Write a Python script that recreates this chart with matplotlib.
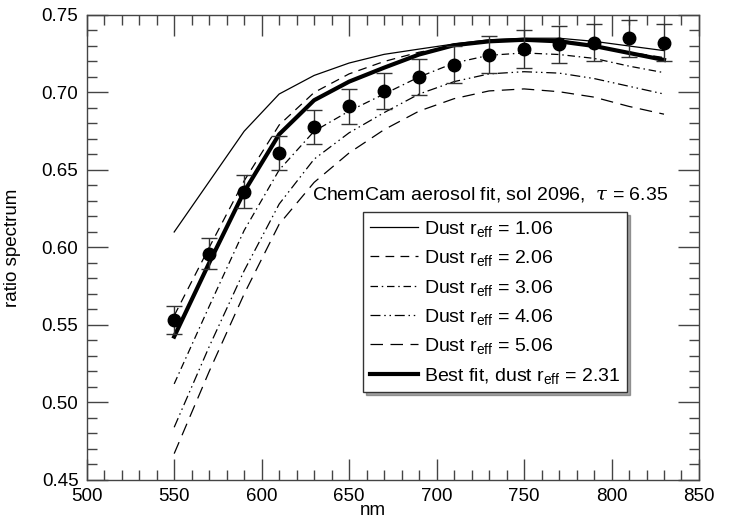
import matplotlib
matplotlib.use("Agg")
import matplotlib.pyplot as plt
from matplotlib.ticker import MultipleLocator

plt.rcParams['font.family'] = ['Liberation Sans', 'DejaVu Sans']
plt.rcParams['mathtext.fontset'] = 'custom'
plt.rcParams['mathtext.rm'] = 'Liberation Sans'
plt.rcParams['mathtext.it'] = 'DejaVu Serif:italic'

wavelength = [550, 570, 590, 610, 630, 650, 670, 690, 710, 730, 750, 770, 790, 810, 830]

obs = [0.553, 0.596, 0.636, 0.661, 0.678, 0.691, 0.701, 0.710, 0.718, 0.7245, 0.728, 0.731, 0.732, 0.735, 0.732]
obs_err = [0.009, 0.010, 0.0105, 0.0107, 0.011, 0.0115, 0.0116, 0.0116, 0.012, 0.012, 0.0123, 0.0122, 0.012, 0.012, 0.012]

dust_106 = [0.610, 0.6425, 0.675, 0.699, 0.711, 0.719, 0.7246, 0.728, 0.7313, 0.734, 0.735, 0.735, 0.733, 0.730, 0.727]
dust_206 = [0.556, 0.600, 0.643, 0.679, 0.700, 0.712, 0.720, 0.726, 0.730, 0.733, 0.734, 0.734, 0.730, 0.726, 0.7225]
dust_306 = [0.512, 0.562, 0.611, 0.650, 0.675, 0.688, 0.699, 0.710, 0.719, 0.724, 0.7255, 0.7245, 0.722, 0.717, 0.7128]
dust_406 = [0.484, 0.536, 0.585, 0.628, 0.657, 0.674, 0.687, 0.699, 0.707, 0.712, 0.7134, 0.7125, 0.709, 0.704, 0.699]
dust_506 = [0.467, 0.520, 0.570, 0.615, 0.642, 0.661, 0.676, 0.688, 0.696, 0.701, 0.7023, 0.7005, 0.697, 0.691, 0.686]
best_fit = [0.5425, 0.590, 0.636, 0.673, 0.695, 0.707, 0.716, 0.7245, 0.7305, 0.733, 0.734, 0.733, 0.730, 0.7255, 0.721]

labels = [r'Dust r$_{\mathrm{eff}}$ = 1.06', r'Dust r$_{\mathrm{eff}}$ = 2.06',
          r'Dust r$_{\mathrm{eff}}$ = 3.06', r'Dust r$_{\mathrm{eff}}$ = 4.06',
          r'Dust r$_{\mathrm{eff}}$ = 5.06', r'Best fit, dust r$_{\mathrm{eff}}$ = 2.31']

fig = plt.figure(figsize=(7.33, 5.22), dpi=100)
ax = fig.add_axes([0.1183, 0.0805, 0.8353, 0.8908])

ax.plot(wavelength, dust_106, color='black', lw=0.9, linestyle='-', label=labels[0])
ax.plot(wavelength, dust_206, color='black', lw=0.9, linestyle=(0, (7, 5)), label=labels[1])
ax.plot(wavelength, dust_306, color='black', lw=0.9, linestyle=(0, (6, 3, 1.2, 3)), label=labels[2])
ax.plot(wavelength, dust_406, color='black', lw=0.9, linestyle=(0, (8, 3, 1.2, 3, 1.2, 3)), label=labels[3])
ax.plot(wavelength, dust_506, color='black', lw=0.9, linestyle=(0, (10, 6)), label=labels[4])
ax.plot(wavelength, best_fit, color='black', lw=3.0, linestyle='-', label=labels[5])
ax.errorbar(wavelength, obs, yerr=obs_err, fmt='o', color='black', ms=9,
            ecolor='#333333', elinewidth=1.0, capsize=6, capthick=1.0, zorder=5)

ax.set_xlim(500, 850)
ax.set_ylim(0.45, 0.75)
ax.xaxis.set_major_locator(MultipleLocator(50))
ax.xaxis.set_minor_locator(MultipleLocator(10))
ax.yaxis.set_major_locator(MultipleLocator(0.05))
ax.yaxis.set_minor_locator(MultipleLocator(0.01))
ax.yaxis.set_major_formatter(matplotlib.ticker.FormatStrFormatter('%.2f'))
ax.tick_params(which='both', direction='in', top=True, right=True, color='#444444', labelsize=13.5)
ax.tick_params(which='major', length=15, width=1.0, pad=6)
ax.tick_params(which='minor', length=7.5, width=1.0)
for s in ax.spines.values():
    s.set_color('#444444')
    s.set_linewidth(1.0)

ax.set_xlabel('nm', fontsize=13.5)
ax.xaxis.set_label_coords(0.468, -0.048)
ax.set_ylabel('ratio spectrum', fontsize=13.5)
ax.yaxis.set_label_coords(-0.108, 0.5)

ax.text(0.949, 0.613, r'ChemCam aerosol fit, sol 2096,  $\tau$ = 6.35', transform=ax.transAxes,
        ha='right', va='center', fontsize=14)

leg = ax.legend(loc='upper left', bbox_to_anchor=(0.451, 0.576), fontsize=14, frameon=True,
                fancybox=False, shadow=True, handlelength=2.5, labelspacing=0.48,
                borderpad=0.35, handletextpad=0.3, borderaxespad=0)
leg.get_frame().set_edgecolor('#333333')
leg.get_frame().set_linewidth(1.0)

fig.savefig('out.png', dpi=100)
